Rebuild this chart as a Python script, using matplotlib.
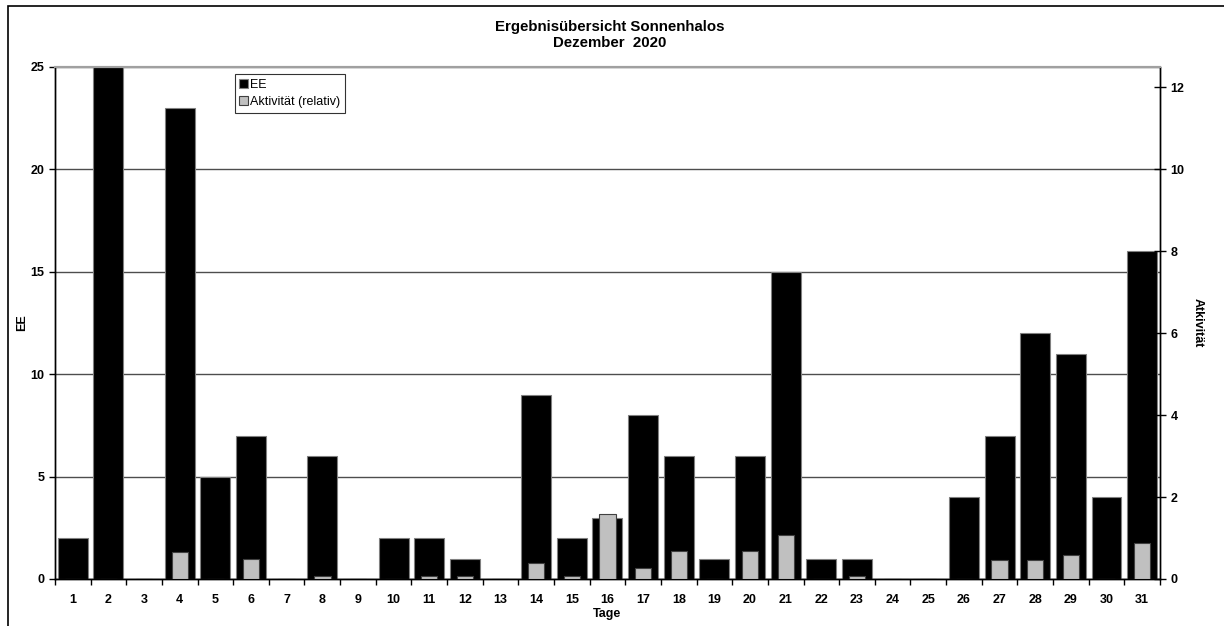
import matplotlib
matplotlib.use('Agg')
import matplotlib.pyplot as plt
import numpy as np
from matplotlib.patches import Rectangle

plt.rcParams['font.family'] = ['Liberation Sans', 'DejaVu Sans']

# data
days = list(range(1, 32))
ee = [2, 25, 0, 23, 5, 7, 0, 6, 0, 2, 2, 1, 0, 9, 2, 3, 8, 6, 1, 6,
      15, 1, 1, 0, 0, 4, 7, 12, 11, 4, 16]
aktiv = [0, 0, 0, 0.67, 0, 0.5, 0, 0.08, 0, 0, 0.08, 0.08, 0, 0.38, 0.08, 1.59,
         0.28, 0.68, 0, 0.68, 1.07, 0, 0.08, 0, 0, 0, 0.47, 0.47, 0.58, 0, 0.87]

fig = plt.figure(figsize=(12.24, 6.26), dpi=100)
ax = fig.add_axes([0.0449, 0.0751, 0.9028, 0.8179])
ax2 = ax.twinx()

x = np.array(days)
ax.bar(x, ee, width=0.84, color='black', edgecolor='#808080', linewidth=0.8,
       label='EE', zorder=2)
ax2.bar(x, aktiv, width=0.46, color='#c0c0c0', edgecolor='#404040', linewidth=0.8,
        label='Aktivität (relativ)', zorder=3)

ax.set_xlim(0.5, 31.5)
ax.set_ylim(0, 25)
ax2.set_ylim(0, 12.5)

ax.set_axisbelow(True)
ax.set_yticks([0, 5, 10, 15, 20, 25])
ax.yaxis.grid(True, color='0.3', linewidth=1)
ax2.set_yticks([0, 2, 4, 6, 8, 10, 12])

ax.set_xticks(x)
ax.set_xticklabels([str(d) for d in days])
ax.set_xticks(np.arange(0.5, 32, 1), minor=True)
ax.tick_params(axis='x', which='major', length=0, pad=11, labelsize=9)
ax.tick_params(axis='x', which='minor', length=4, direction='out', width=1)
for lab in ax.get_xticklabels():
    lab.set_fontweight('bold')

ax.tick_params(axis='y', direction='out', length=4, width=1, labelsize=9)
ax2.tick_params(axis='y', direction='inout', length=8, width=1, labelsize=9)
for lab in ax.get_yticklabels() + ax2.get_yticklabels():
    lab.set_fontweight('bold')

for a in (ax, ax2):
    a.spines['top'].set_color('#a0a0a0')
    a.spines['top'].set_linewidth(1.5)
    a.spines['left'].set_linewidth(1)
    a.spines['right'].set_linewidth(1)
    a.spines['bottom'].set_linewidth(1)

ax.set_ylabel('EE', fontsize=9, fontweight='bold', labelpad=2)
ax2.set_ylabel('Atkivität', fontsize=9, fontweight='bold', rotation=-90, labelpad=14)
ax.set_xlabel('Tage', fontsize=9, fontweight='bold', labelpad=1)

fig.text(0.4984, 0.968, 'Ergebnisübersicht Sonnenhalos\nDezember  2020', ha='center',
         va='top', fontsize=10.8, fontweight='bold', linespacing=1.2)

h1, l1 = ax.get_legend_handles_labels()
h2, l2 = ax2.get_legend_handles_labels()
leg = ax2.legend(h1 + h2, l1 + l2, loc='upper left', bbox_to_anchor=(0.1625, 0.986),
                 fontsize=9, frameon=True, fancybox=False, edgecolor='black',
                 handlelength=0.7, handleheight=0.7, handletextpad=0.2,
                 borderpad=0.35, labelspacing=0.45, borderaxespad=0)
leg.get_frame().set_linewidth(0.8)

# outer chart frame (cut off at right and bottom)
fig.patches.append(Rectangle((8 / 1224, -0.1), 1.2, 0.1 + 1 - 6 / 626, transform=fig.transFigure,
                             fill=False, edgecolor='black', linewidth=1.2))

fig.savefig('out.png', dpi=100)
